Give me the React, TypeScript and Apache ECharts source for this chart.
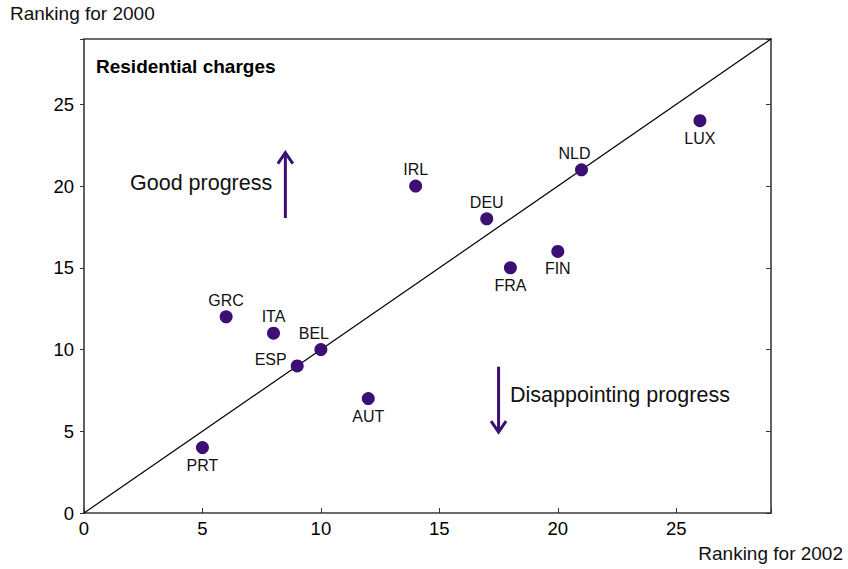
import React, { useEffect, useRef } from "react";
import * as echarts from "echarts";

const countries = ["PRT", "GRC", "ITA", "ESP", "BEL", "AUT", "IRL", "DEU", "FRA", "FIN", "NLD", "LUX"];
const rank2002 = [5, 6, 8, 9, 10, 12, 14, 17, 18, 20, 21, 26];
const rank2000 = [4, 12, 11, 9, 10, 7, 20, 18, 15, 16, 21, 24];
const labelPlace = ["below", "above", "above", "leftAbove", "aboveLeft", "below", "above", "above", "below", "below", "aboveLeft", "below"];
const axisTicks = [0, 5, 10, 15, 20, 25];
const diagonal = [[0, 0], [29, 29]];
const arrows = [
  [[8.5, 18.05], [8.5, 22.05]],
  [[17.5, 8.95], [17.5, 4.95]],
];

const PURPLE = "#3c0f74";
const FONT = "Liberation Sans, Arial, sans-serif";

export default function App() {
  const ref = useRef<HTMLDivElement>(null);
  useEffect(() => {
    const chart = echarts.init(ref.current!, null, { renderer: "svg" });
    const placeOffset: Record<string, any> = {
      below: { position: "bottom", distance: 3 },
      above: { position: "top", distance: 2 },
      leftAbove: { position: "left", distance: 4, offset: [0, -6] },
      aboveLeft: { position: "top", distance: 2, offset: [-7, 0] },
    };
    const scatterData = countries.map((c, i) => ({
      value: [rank2002[i], rank2000[i]],
      name: c,
      label: { show: true, formatter: c, color: "#111", fontSize: 16, fontFamily: FONT, ...placeOffset[labelPlace[i]] },
    }));
    const axisLine = { show: true, onZero: false, lineStyle: { color: "#3a3a3a", width: 1.6 } };
    chart.setOption({
      animation: false,
      backgroundColor: "#fff",
      grid: { left: 84, top: 39, right: 77, bottom: 56, containLabel: false },
      xAxis: [
        {
          type: "value", min: 0, max: 29, interval: 5, position: "bottom",
          axisLine, axisTick: { show: true, inside: true, length: 5, lineStyle: { color: "#333" } },
          axisLabel: { color: "#000", fontSize: 18.5, fontFamily: FONT, margin: 6,
            formatter: (v: number) => (axisTicks.includes(v) ? String(v) : "") },
          splitLine: { show: false },
        },
        {
          type: "value", min: 0, max: 29, position: "top",
          axisLine, axisTick: { show: false }, axisLabel: { show: false }, splitLine: { show: false },
        },
      ],
      yAxis: [
        {
          type: "value", min: 0, max: 29, interval: 5, position: "left",
          axisLine, axisTick: { show: true, inside: false, length: 4, lineStyle: { color: "#333" } },
          axisLabel: { color: "#000", fontSize: 18.5, fontFamily: FONT, margin: 10,
            formatter: (v: number) => (axisTicks.includes(v) ? String(v) : "") },
          splitLine: { show: false },
        },
        {
          type: "value", min: 0, max: 29, interval: 5, position: "right",
          axisLine, axisTick: { show: true, inside: true, length: 5, lineStyle: { color: "#333" } },
          axisLabel: { show: false }, splitLine: { show: false },
        },
      ],
      series: [
        {
          type: "line", data: diagonal, symbol: "none",
          lineStyle: { color: "#000", width: 1.2 }, z: 1, silent: true,
        },
        {
          type: "scatter", data: scatterData, symbolSize: 13,
          itemStyle: { color: PURPLE, opacity: 1 },
          z: 3,
        },
        {
          type: "custom",
          data: arrows.map((a) => [a[0][0], a[0][1], a[1][0], a[1][1]]),
          renderItem: (params: any, api: any) => {
            const p0 = api.coord([api.value(0), api.value(1)]);
            const p1 = api.coord([api.value(2), api.value(3)]);
            const dir = p1[1] < p0[1] ? -1 : 1;
            const style = { stroke: PURPLE, lineWidth: 3, fill: "none" };
            return {
              type: "group",
              children: [
                { type: "line", shape: { x1: p0[0], y1: p0[1], x2: p1[0], y2: p1[1] - dir * 1.5 }, style },
                {
                  type: "polyline",
                  shape: { points: [[p1[0] - 7.5, p1[1] - dir * 11], [p1[0], p1[1]], [p1[0] + 7.5, p1[1] - dir * 11]] },
                  style: { ...style, lineJoin: "miter" },
                },
              ],
            };
          },
          z: 2, silent: true,
        },
      ],
      graphic: [
        { type: "text", left: 10, top: 4, style: { text: "Ranking for 2000", fontSize: 19, fontFamily: FONT, fill: "#111" } },
        { type: "text", right: 5, top: 544, style: { text: "Ranking for 2002", fontSize: 19, fontFamily: FONT, fill: "#111" } },
        { type: "text", left: 96, top: 57, style: { text: "Residential charges", fontSize: 19, fontWeight: "bold", fontFamily: FONT, fill: "#000" } },
        { type: "text", left: 130, top: 172, style: { text: "Good progress", fontSize: 21.5, fontFamily: FONT, fill: "#111" } },
        { type: "text", left: 510, top: 384, style: { text: "Disappointing progress", fontSize: 21.5, fontFamily: FONT, fill: "#111" } },
      ],
    });
    return () => chart.dispose();
  }, []);
  return <div ref={ref} style={{ width: 848, height: 569, position: "absolute", left: 0, top: 0 }} />;
}
